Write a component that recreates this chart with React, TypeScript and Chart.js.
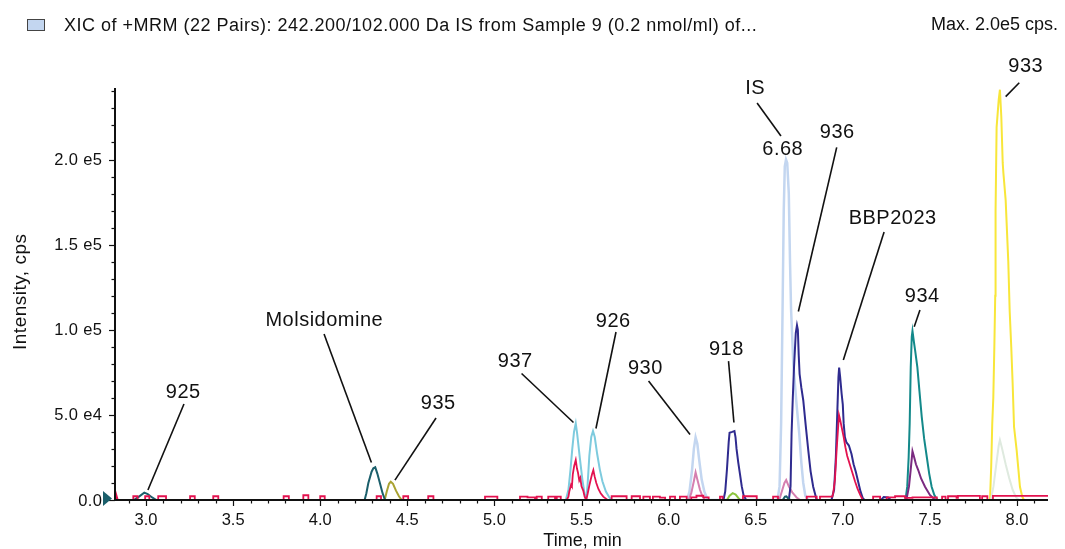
import React, { useEffect, useRef } from "react";
import { Chart, registerables } from "chart.js";

Chart.register(...registerables);

// ---------- data (time in min, intensity in cps) ----------
const xTickValues = [3.0, 3.5, 4.0, 4.5, 5.0, 5.5, 6.0, 6.5, 7.0, 7.5, 8.0];
const xTickLabels = ["3.0", "3.5", "4.0", "4.5", "5.0", "5.5", "6.0", "6.5", "7.0", "7.5", "8.0"];
const yTickValues = [0, 50000, 100000, 150000, 200000];
const yTickLabels = ["0.0", "5.0 e4", "1.0 e5", "1.5 e5", "2.0 e5"];

// crimson trace: [time, intensity] (baseline noise blocks + peaks)
const redPoints: [number, number][] = [
  [2.822, 0], [2.828, 0], [2.833, 1800], [2.838, 0],
  [2.927, 0], [2.927, 2200], [2.952, 2200], [2.952, 0],
  [2.995, 0], [2.995, 2200], [3.019, 2200], [3.019, 0],
  [3.07, 0], [3.07, 2200], [3.115, 2200], [3.115, 0],
  [3.253, 0], [3.253, 2200], [3.28, 2200], [3.28, 0],
  [3.386, 0], [3.386, 2200], [3.415, 2200], [3.415, 0],
  [3.79, 0], [3.79, 2200], [3.82, 2200], [3.82, 0],
  [3.903, 0], [3.903, 2800], [3.932, 2800], [3.932, 0],
  [4.0, 0], [4.0, 2200], [4.026, 2200], [4.026, 0],
  [4.324, 0], [4.324, 2200], [4.349, 2200], [4.349, 0],
  [4.477, 0], [4.477, 2200], [4.505, 2200], [4.505, 0],
  [4.62, 0], [4.62, 2200], [4.65, 2200], [4.65, 0],
  [4.946, 0], [4.946, 2000], [5.017, 2000], [5.017, 0],
  [5.147, 0], [5.147, 2000], [5.19, 2000], [5.19, 1600], [5.233, 1600], [5.233, 0],
  [5.243, 0], [5.243, 2000], [5.272, 2000], [5.272, 0],
  [5.309, 0], [5.309, 2000], [5.348, 2000], [5.348, 0],
  [5.358, 0], [5.358, 2000], [5.381, 2000], [5.381, 0],
  [5.415, 0], [5.425, 2000], [5.43, 5000], [5.44, 9000], [5.445, 8000], [5.45, 15000], [5.458, 20000],
  [5.467, 23500], [5.474, 18500], [5.48, 16000], [5.487, 11500], [5.493, 13000], [5.5, 8000],
  [5.51, 5500], [5.518, 2000], [5.527, 0], [5.535, 3500], [5.545, 8500], [5.553, 12000],
  [5.56, 15000], [5.568, 17600], [5.575, 14000], [5.585, 10000], [5.597, 6500], [5.61, 4000],
  [5.625, 2000], [5.64, 800], [5.65, 0],
  [5.673, 0], [5.673, 2200], [5.759, 2200], [5.759, 0],
  [5.788, 0], [5.788, 2200], [5.836, 2200], [5.836, 0],
  [5.855, 0], [5.855, 2000], [5.893, 2000], [5.893, 0],
  [5.91, 0], [5.91, 2000], [5.95, 2000], [5.95, 1400], [5.98, 1400], [5.98, 0],
  [6.008, 0], [6.008, 2000], [6.037, 2000], [6.037, 0],
  [6.065, 0], [6.065, 2000], [6.104, 2000], [6.104, 0],
  [6.13, 0], [6.13, 1500], [6.16, 1500], [6.16, 2500], [6.2, 2500], [6.2, 1500], [6.23, 1500], [6.23, 0],
  [6.295, 0], [6.295, 2000], [6.31, 2000], [6.31, 0],
  [6.427, 0], [6.427, 2200], [6.506, 2200], [6.506, 0],
  [6.6, 0], [6.6, 2000], [6.628, 2000], [6.628, 0],
  [6.793, 0], [6.793, 2000], [6.85, 2000], [6.85, 0],
  [6.869, 0], [6.869, 2000], [6.94, 2000], [6.945, 4000], [6.955, 12000], [6.965, 30000],
  [6.978, 50000], [6.985, 47000], [6.995, 42000], [7.005, 37000], [7.015, 31000], [7.025, 26000],
  [7.04, 21000], [7.055, 16000], [7.07, 11000], [7.085, 6500], [7.1, 3000], [7.115, 0],
  [7.174, 0], [7.174, 2000], [7.214, 2000], [7.214, 0],
  [7.252, 0], [7.252, 1600], [7.3, 1600], [7.3, 2200], [7.357, 2200], [7.357, 1200], [7.4, 1200],
  [7.4, 1600], [7.54, 1600], [7.54, 0],
  [7.57, 0], [7.57, 2000], [7.59, 2000], [7.59, 0],
  [7.604, 0], [7.604, 2200], [7.653, 2200], [7.653, 1200], [7.661, 1200], [7.661, 2400],
  [7.787, 2400], [7.787, 0],
  [7.8, 0], [7.8, 2200], [7.83, 2200], [7.83, 0],
  [7.862, 0], [7.862, 2400], [8.178, 2400],
];

// dark teal: 925, Molsidomine, small 6.68 bump
const darkTealT = [2.822, 2.93, 2.96, 2.99, 3.01, 3.035, 3.06, 4.255, 4.265, 4.276, 4.295, 4.305, 4.316, 4.328, 4.343, 4.358, 4.372, 6.655, 6.668, 6.676, 6.69, 6.7];
const darkTealI = [0, 0, 2000, 4300, 3500, 1500, 0, 0, 4000, 9800, 16600, 18600, 19200, 15500, 9800, 4000, 0, 0, 2000, 2200, 500, 0];

// olive: 935
const oliveT = [4.37, 4.382, 4.395, 4.405, 4.418, 4.435, 4.452, 4.468];
const oliveI = [0, 5000, 9500, 10700, 9500, 5500, 2200, 0];

// sky blue: 937 & 926
const cyanT = [5.41, 5.425, 5.437, 5.447, 5.457, 5.467, 5.475, 5.49, 5.505, 5.517, 5.527, 5.535, 5.545, 5.556, 5.566, 5.576, 5.59, 5.605, 5.62, 5.64, 5.66, 5.675];
const cyanI = [0, 6000, 18000, 30000, 40000, 45000, 39000, 25000, 12000, 4000, 0, 9000, 26000, 37000, 40500, 37000, 27000, 18000, 11000, 5000, 1500, 0];

// light blue: 930 and IS (6.68)
const isT = [6.105, 6.12, 6.135, 6.145, 6.155, 6.165, 6.175, 6.19, 6.205, 6.225, 6.625, 6.637, 6.646, 6.654, 6.661, 6.667, 6.674, 6.681, 6.69, 6.697, 6.703, 6.716, 6.733, 6.75, 6.762, 6.773, 6.785, 6.8];
const isI = [0, 5000, 18000, 30000, 36800, 33000, 24000, 12000, 5000, 0, 0, 8000, 45000, 110000, 170000, 196000, 200000, 198000, 180000, 140000, 112000, 80000, 58000, 39000, 22000, 10000, 2500, 0];

// pink
const pinkT = [6.115, 6.13, 6.145, 6.155, 6.165, 6.18, 6.195, 6.21, 6.635, 6.65, 6.665, 6.675, 6.69, 6.71, 6.735, 6.755];
const pinkI = [0, 4000, 11000, 16200, 12000, 6000, 2000, 0, 0, 5000, 10000, 11700, 8000, 4500, 1500, 0];

// navy: 918, 936, BBP2023
const navyT = [6.315, 6.325, 6.335, 6.345, 6.35, 6.365, 6.378, 6.384, 6.39, 6.4, 6.41, 6.42, 6.43, 6.445, 6.69, 6.7, 6.706, 6.713, 6.72, 6.73, 6.737, 6.742, 6.747, 6.752, 6.762, 6.773, 6.787, 6.802, 6.815, 6.83, 6.85, 6.935, 6.95, 6.96, 6.968, 6.975, 6.979, 6.985, 6.993, 7.0, 7.005, 7.012, 7.02, 7.035, 7.05, 7.062, 7.075, 7.09, 7.102, 7.115, 7.125, 7.22, 7.235, 7.26, 7.275];
const navyI = [0, 5000, 18000, 34000, 39500, 40000, 40500, 37000, 30000, 22000, 15000, 8000, 3000, 0, 0, 8000, 39000, 60000, 78000, 98000, 102600, 100000, 85000, 74000, 66000, 58600, 44000, 29000, 17000, 7800, 0, 0, 6000, 25000, 50000, 72000, 77800, 72000, 62700, 56000, 45000, 37000, 34000, 32000, 27000, 21000, 16500, 10000, 4900, 1000, 0, 0, 1800, 1500, 0];

// light green small peak
const greenT = [6.335, 6.35, 6.368, 6.385, 6.4, 6.41];
const greenI = [0, 2500, 4000, 3200, 1200, 0];

// teal: 934
const tealT = [7.36, 7.37, 7.378, 7.384, 7.39, 7.396, 7.4, 7.408, 7.415, 7.428, 7.44, 7.453, 7.467, 7.482, 7.496, 7.51, 7.525, 7.543];
const tealI = [0, 8000, 25000, 45000, 78000, 96000, 99300, 93000, 88000, 78000, 64000, 49000, 36000, 25400, 15500, 7800, 3000, 0];

// purple
const purpleT = [7.365, 7.38, 7.39, 7.4, 7.41, 7.42, 7.433, 7.45, 7.472, 7.5, 7.53];
const purpleI = [0, 8000, 18000, 28700, 25000, 21000, 17600, 12500, 7800, 3000, 0];

// yellow: 933
const yellowT = [7.845, 7.852, 7.858, 7.864, 7.87, 7.875, 7.877, 7.883, 7.895, 7.902, 7.91, 7.918, 7.922, 7.935, 7.95, 7.958, 7.967, 7.975, 7.983, 7.998, 8.008, 8.017, 8.03, 8.04];
const yellowI = [0, 20000, 45000, 60000, 90000, 120000, 170000, 219000, 235000, 241000, 225000, 198000, 192000, 176000, 140000, 111000, 90000, 68600, 43000, 29300, 18000, 7800, 2000, 0];

// pale grey-green
const paleT = [7.85, 7.865, 7.88, 7.895, 7.902, 7.915, 7.935, 7.955, 7.975, 7.995, 8.01];
const paleI = [0, 8000, 20000, 32000, 35200, 30000, 21000, 13000, 6000, 1500, 0];

// peak labels: text position and leader line, in data units
const labels = [
  { text: "925", tx: 3.212, ty: 63400, x1: 3.218, y1: 56400, x2: 3.011, y2: 5900 },
  { text: "Molsidomine", tx: 4.022, ty: 105700, x1: 4.022, y1: 97500, x2: 4.294, y2: 22000 },
  { text: "935", tx: 4.676, ty: 56400, x1: 4.665, y1: 48200, x2: 4.429, y2: 11700 },
  { text: "937", tx: 5.118, ty: 81100, x1: 5.156, y1: 74300, x2: 5.454, y2: 45500 },
  { text: "926", tx: 5.681, ty: 104900, x1: 5.698, y1: 98700, x2: 5.583, y2: 42000 },
  { text: "930", tx: 5.865, ty: 77000, x1: 5.885, y1: 69900, x2: 6.123, y2: 38500 },
  { text: "918", tx: 6.33, ty: 88700, x1: 6.344, y1: 81600, x2: 6.375, y2: 45500 },
  { text: "IS", tx: 6.496, ty: 242000, x1: 6.508, y1: 233200, x2: 6.645, y2: 213800 },
  { text: "6.68", tx: 6.654, ty: 205900 },
  { text: "936", tx: 6.967, ty: 215600, x1: 6.965, y1: 207100, x2: 6.745, y2: 110700 },
  { text: "BBP2023", tx: 7.285, ty: 165600, x1: 7.237, y1: 157400, x2: 7.003, y2: 82200 },
  { text: "934", tx: 7.455, ty: 119800, x1: 7.443, y1: 111600, x2: 7.41, y2: 101800 },
  { text: "933", tx: 8.049, ty: 254900, x1: 8.013, y1: 245100, x2: 7.935, y2: 236900 },
];

const headerText = "XIC of +MRM (22 Pairs): 242.200/102.000 Da IS from Sample 9 (0.2 nmol/ml) of...";
const maxText = "Max. 2.0e5 cps.";
const yTitle = "Intensity, cps";
const xTitle = "Time, min";

const FONT = '"Liberation Sans", Arial, Helvetica, sans-serif';

function pts(t: number[], v: number[]) {
  return t.map((x, i) => ({ x, y: v[i] }));
}

function drawText(
  ctx: CanvasRenderingContext2D,
  text: string,
  x: number,
  y: number,
  size: number,
  align: "left" | "center" | "right",
  spacing = 0
) {
  ctx.font = `${size}px ${FONT}`;
  (ctx as any).letterSpacing = "0px";
  const w = ctx.measureText(text).width + spacing * (text.length - 1);
  (ctx as any).letterSpacing = `${spacing}px`;
  ctx.textAlign = "left";
  let left = x;
  if (align === "center") left = x - w / 2;
  if (align === "right") left = x - w;
  ctx.fillText(text, left, y);
  (ctx as any).letterSpacing = "0px";
}

const decor = {
  id: "decor",
  afterDatasetsDraw(chart: any) {
    const { ctx, chartArea: a, scales } = chart;
    const xs = scales.x;
    const ys = scales.y;
    ctx.save();
    ctx.fillStyle = "#111";
    ctx.strokeStyle = "#111";

    // axes
    ctx.lineWidth = 2;
    ctx.beginPath();
    ctx.moveTo(a.left, a.top);
    ctx.lineTo(a.left, a.bottom);
    ctx.lineTo(a.right, a.bottom);
    ctx.stroke();

    // x ticks
    ctx.lineWidth = 1.2;
    for (let k = 29; k <= 81; k++) {
      const px = Math.round(xs.getPixelForValue(k / 10)) + 0.5;
      const major = k % 5 === 0;
      ctx.beginPath();
      ctx.moveTo(px, a.bottom);
      ctx.lineTo(px, a.bottom + (major ? 6 : 3.5));
      ctx.stroke();
    }
    // y ticks
    for (let k = 0; k <= 24; k++) {
      const py = Math.round(ys.getPixelForValue(k * 10000)) + 0.5;
      const major = k % 5 === 0;
      ctx.beginPath();
      ctx.moveTo(a.left, py);
      ctx.lineTo(a.left - (major ? 6 : 3.5), py);
      ctx.stroke();
    }

    ctx.textBaseline = "middle";
    xTickValues.forEach((v, i) => {
      drawText(ctx, xTickLabels[i], xs.getPixelForValue(v), a.bottom + 20, 16.5, "center");
    });
    yTickValues.forEach((v, i) => {
      drawText(ctx, yTickLabels[i], a.left - 13, ys.getPixelForValue(v) + 1, 16.5, "right", 0.4);
    });

    // zero marker triangle
    const y0 = ys.getPixelForValue(0);
    ctx.fillStyle = "#1b5f6b";
    ctx.beginPath();
    ctx.moveTo(a.left - 12, y0 - 9);
    ctx.lineTo(a.left - 12, y0 + 6);
    ctx.lineTo(a.left - 3, y0 - 1.5);
    ctx.closePath();
    ctx.fill();

    // axis titles
    ctx.fillStyle = "#111";
    drawText(ctx, xTitle, (a.left + a.right) / 2 + 1, a.bottom + 41, 18, "center");
    ctx.save();
    ctx.translate(21, 292);
    ctx.rotate(-Math.PI / 2);
    drawText(ctx, yTitle, 0, 0, 19, "center", 0.5);
    ctx.restore();

    // peak labels
    ctx.lineWidth = 1.6;
    for (const l of labels as any[]) {
      drawText(ctx, l.text, xs.getPixelForValue(l.tx), ys.getPixelForValue(l.ty), 20, "center", 0.5);
      if (l.x1 !== undefined) {
        ctx.beginPath();
        ctx.moveTo(xs.getPixelForValue(l.x1), ys.getPixelForValue(l.y1));
        ctx.lineTo(xs.getPixelForValue(l.x2), ys.getPixelForValue(l.y2));
        ctx.stroke();
      }
    }

    // header
    ctx.fillStyle = "#c3d6f0";
    ctx.fillRect(27, 19, 18, 12);
    ctx.strokeStyle = "#444";
    ctx.lineWidth = 1;
    ctx.strokeRect(27.5, 19.5, 17, 11);
    ctx.fillStyle = "#111";
    ctx.textBaseline = "alphabetic";
    drawText(ctx, headerText, 64, 31, 18, "left", 0.5);
    drawText(ctx, maxText, 1058, 30, 18, "right");

    ctx.restore();
  },
};

export default function App() {
  const ref = useRef<HTMLCanvasElement>(null);
  useEffect(() => {
    document.body.style.margin = "0";
    const line = (data: any[], color: string, order: number, extra: any = {}) => ({
      data,
      borderColor: color,
      backgroundColor: color,
      borderWidth: 2,
      pointRadius: 0,
      tension: 0,
      fill: false,
      order,
      ...extra,
    });
    const chart = new Chart(ref.current as HTMLCanvasElement, {
      type: "line",
      data: {
        datasets: [
          line(redPoints.map(([x, y]) => ({ x, y })), "#e3124f", 0, { borderWidth: 1.8 }),
          line(pts(darkTealT, darkTealI), "#1b5f6b", 1),
          line(pts(oliveT, oliveI), "#a9a232", 2),
          line(pts(purpleT, purpleI), "#7a2a80", 3),
          line(pts(tealT, tealI), "#13898a", 4),
          line(pts(greenT, greenI), "#8cc63f", 5),
          line(pts(navyT, navyI), "#2f2b8f", 6),
          line(pts(cyanT, cyanI), "#7ecbde", 7),
          line(pts(pinkT, pinkI), "#d57fb0", 8),
          line(pts(paleT, paleI), "#dfeadf", 9),
          line(pts(yellowT, yellowI), "#f8e63a", 10),
          line(pts(isT, isI), "#c3d6f0", 11, { borderWidth: 2.5 }),
        ] as any,
      },
      options: {
        responsive: false,
        animation: false,
        devicePixelRatio: 1,
        layout: { padding: { left: 115, right: 17, top: 88, bottom: 49 } },
        plugins: { legend: { display: false }, tooltip: { enabled: false }, title: { display: false } },
        scales: {
          x: { type: "linear", min: 2.822, max: 8.178, display: false },
          y: { type: "linear", min: 0, max: 242000, display: false },
        },
      } as any,
      plugins: [decor],
    });
    return () => chart.destroy();
  }, []);
  return (
    <div style={{ position: "absolute", left: 0, top: 0, width: 1065, height: 549 }}>
      <canvas ref={ref} width={1065} height={549} style={{ display: "block" }} />
    </div>
  );
}
